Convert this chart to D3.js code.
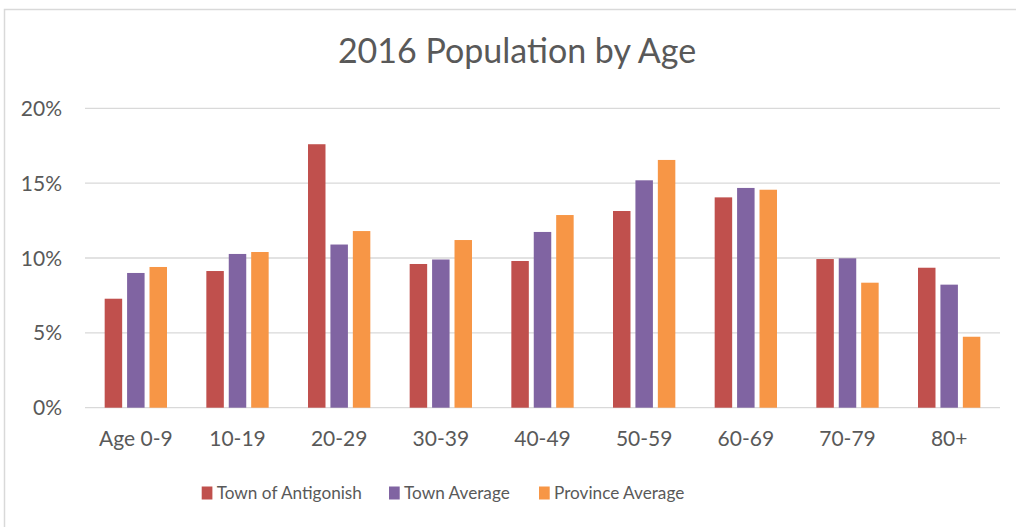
<!DOCTYPE html>
<html>
<head>
<meta charset="utf-8">
<script src="https://cdn.jsdelivr.net/npm/d3@7"></script>
<style>
  body { margin: 0; background: #fff; }
  text { font-family: Lato, "Open Sans", sans-serif; fill: #595959; }
</style>
</head>
<body>
<svg width="1016" height="527"></svg>
<script>
// data (percent)
const ageGroups = ["Age 0-9", "10-19", "20-29", "30-39", "40-49", "50-59", "60-69", "70-79", "80+"];
const seriesNames = ["Town of Antigonish", "Town Average", "Province Average"];
const seriesColors = ["#C0504D", "#8064A2", "#F79646"];
const antigonish = [7.28, 9.13, 17.6, 9.6, 9.8, 13.14, 14.05, 9.93, 9.35];
const townAvg = [9.0, 10.27, 10.9, 9.9, 11.74, 15.19, 14.68, 9.98, 8.22];
const provinceAvg = [9.4, 10.4, 11.8, 11.2, 12.87, 16.55, 14.56, 8.35, 4.74];
const yTicks = [0, 5, 10, 15, 20];

const allSeries = [antigonish, townAvg, provinceAvg];

const svg = d3.select("svg");

// chart border (only top + left visible in the crop)
svg.append("path")
  .attr("d", "M4.5,527 L4.5,9.5 L1016,9.5")
  .attr("fill", "none")
  .attr("stroke", "#D9D9D9")
  .attr("stroke-width", 1.5);

// title
svg.append("text")
  .attr("x", 517)
  .attr("y", 63)
  .attr("text-anchor", "middle")
  .style("font-size", "34px")
  .text("2016 Population by Age");

const plotLeft = 85, plotRight = 1000;
const y = d3.scaleLinear().domain([0, 20]).range([407.7, 108.3]);

const x0 = d3.scaleBand()
  .domain(ageGroups)
  .range([plotLeft, plotRight])
  .paddingInner(0.387)
  .paddingOuter(0.1935);

const x1 = d3.scaleBand()
  .domain(d3.range(seriesNames.length))
  .range([0, x0.bandwidth()])
  .paddingInner(0.22);

// gridlines
svg.append("g")
  .selectAll("line")
  .data(yTicks)
  .join("line")
    .attr("x1", plotLeft)
    .attr("x2", plotRight)
    .attr("y1", d => y(d))
    .attr("y2", d => y(d))
    .attr("stroke", "#D9D9D9")
    .attr("stroke-width", 1.3);

// y tick labels
svg.append("g")
  .selectAll("text")
  .data(yTicks)
  .join("text")
    .attr("x", 62)
    .attr("y", d => y(d) + 7.5)
    .attr("text-anchor", "end")
    .style("font-size", "21px")
    .text(d => d + "%");

// bars
const groups = svg.append("g")
  .selectAll("g")
  .data(ageGroups)
  .join("g")
    .attr("transform", d => "translate(" + x0(d) + ",0)");

groups.selectAll("rect")
  .data((d, i) => allSeries.map((s, j) => ({ series: j, value: s[i] })))
  .join("rect")
    .attr("x", d => x1(d.series))
    .attr("y", d => y(d.value))
    .attr("width", x1.bandwidth())
    .attr("height", d => y(0) - y(d.value))
    .attr("fill", d => seriesColors[d.series]);

// x labels
svg.append("g")
  .selectAll("text")
  .data(ageGroups)
  .join("text")
    .attr("x", d => x0(d) + x0.bandwidth() / 2)
    .attr("y", 446)
    .attr("text-anchor", "middle")
    .style("font-size", "21px")
    .text(d => d);

// legend
const legendX = [201.7, 389, 539];
const legend = svg.append("g")
  .selectAll("g")
  .data(seriesNames)
  .join("g")
    .attr("transform", (d, i) => "translate(" + legendX[i] + ",0)");

legend.append("rect")
  .attr("x", 0)
  .attr("y", 486.5)
  .attr("width", 10.7)
  .attr("height", 13)
  .attr("fill", (d, i) => seriesColors[i]);

legend.append("text")
  .attr("x", 15)
  .attr("y", 498.5)
  .style("font-size", "17.2px")
  .text(d => d);
</script>
</body>
</html>
